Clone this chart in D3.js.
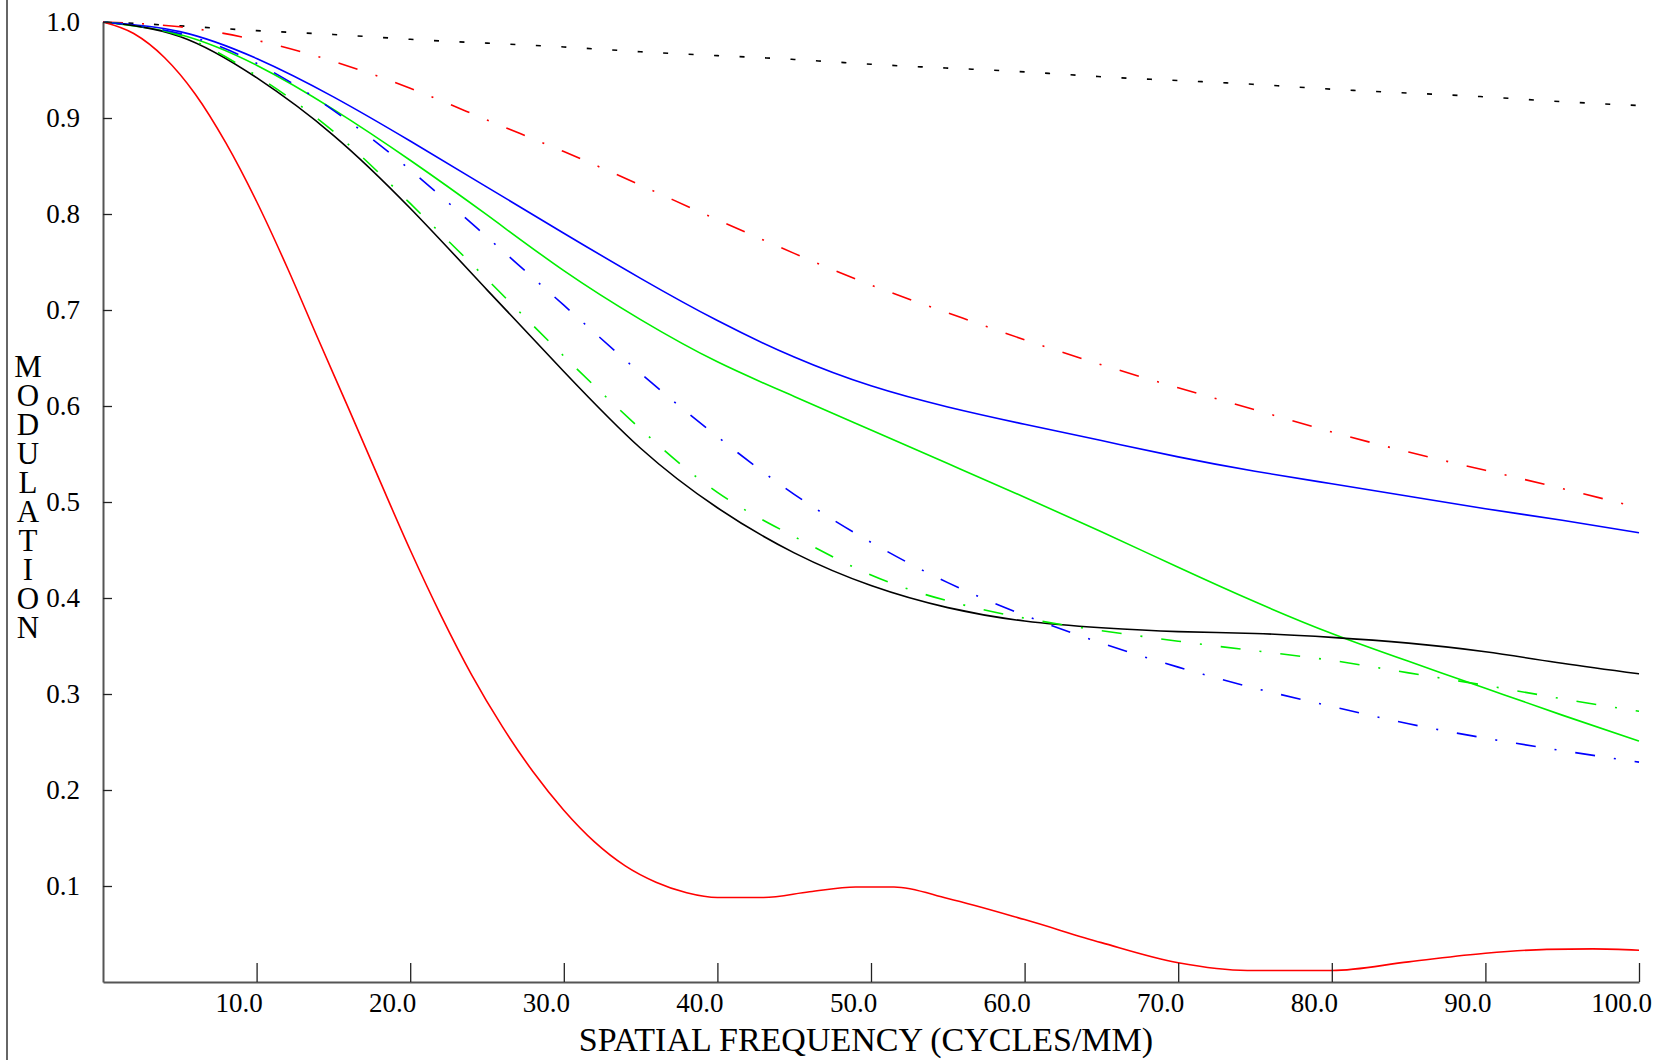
<!DOCTYPE html>
<html>
<head>
<meta charset="utf-8">
<script src="https://cdn.jsdelivr.net/npm/d3@7"></script>
<style>
  body { margin: 0; background: #fff; }
  svg { display: block; }
  text { font-family: "Liberation Serif", "Times New Roman", serif; fill: #000; }
</style>
</head>
<body>
<div id="chart"></div>
<script>
// spatial frequency samples (cycles/mm)
var freq = [0, 5, 10, 15, 20, 25, 30, 35, 40, 45, 50, 55, 60, 65, 70, 75, 80, 85, 90, 95, 100];

var diffraction = [1.000, 0.996, 0.991, 0.987, 0.982, 0.978, 0.974, 0.969, 0.965, 0.961, 0.956,
                   0.952, 0.948, 0.943, 0.939, 0.935, 0.930, 0.926, 0.922, 0.917, 0.913];
var redDashDot = [1.000, 0.995, 0.981, 0.959, 0.931, 0.898, 0.865, 0.830, 0.794, 0.759, 0.726,
                  0.697, 0.669, 0.643, 0.619, 0.596, 0.573, 0.552, 0.533, 0.514, 0.494];
var blueSolid = [1.000, 0.990, 0.962, 0.922, 0.876, 0.828, 0.780, 0.733, 0.689, 0.651, 0.621,
                 0.599, 0.581, 0.564, 0.547, 0.532, 0.519, 0.506, 0.493, 0.481, 0.468];
var greenSolid = [1.000, 0.987, 0.955, 0.909, 0.856, 0.799, 0.741, 0.690, 0.646, 0.610, 0.575,
                  0.540, 0.505, 0.469, 0.432, 0.396, 0.363, 0.334, 0.306, 0.278, 0.251];
var blackSolid = [1.000, 0.985, 0.942, 0.882, 0.806, 0.721, 0.636, 0.556, 0.494, 0.447, 0.413,
                  0.390, 0.376, 0.369, 0.365, 0.363, 0.359, 0.353, 0.344, 0.332, 0.321];
var greenDashDot = [1.000, 0.986, 0.944, 0.886, 0.811, 0.732, 0.652, 0.576, 0.510, 0.464, 0.424,
                    0.397, 0.379, 0.366, 0.355, 0.345, 0.335, 0.322, 0.309, 0.295, 0.282];
var blueDashDot = [1.000, 0.988, 0.957, 0.908, 0.846, 0.776, 0.705, 0.634, 0.568, 0.508, 0.458,
                   0.416, 0.382, 0.353, 0.328, 0.306, 0.287, 0.269, 0.254, 0.241, 0.229];

// red solid is sampled finer, it drops fast and wiggles near zero
var redFreq = [0, 2, 4, 6, 8, 10, 12, 14, 16, 18, 20, 22, 24, 26, 28, 30, 32, 34, 36, 38, 40,
               43, 46, 49, 51.5, 55, 60, 65, 70, 74.5, 80, 85, 90, 94, 97, 100];
var redSolid = [1.000, 0.988, 0.963, 0.925, 0.874, 0.813, 0.744, 0.670, 0.597, 0.523, 0.450,
                0.382, 0.320, 0.266, 0.219, 0.179, 0.146, 0.121, 0.104, 0.093, 0.088,
                0.088, 0.094, 0.099, 0.099, 0.087, 0.065, 0.041, 0.020, 0.012, 0.012,
                0.021, 0.030, 0.034, 0.0345, 0.033];

var xTicks = [10, 20, 30, 40, 50, 60, 70, 80, 90, 100];
var yTicks = [0.1, 0.2, 0.3, 0.4, 0.5, 0.6, 0.7, 0.8, 0.9, 1.0];
var yTitle = "MODULATION";
var xTitle = "SPATIAL FREQUENCY (CYCLES/MM)";

var width = 1663, height = 1060;
var plotLeft = 103, plotRight = 1639, plotTop = 22, plotBottom = 982;

var svg = d3.select("#chart").append("svg")
    .attr("width", width)
    .attr("height", height);

svg.append("rect").attr("width", width).attr("height", height).attr("fill", "#fff");

// frame edge on the far left
svg.append("line")
    .attr("x1", 7).attr("x2", 7)
    .attr("y1", 0).attr("y2", height)
    .attr("stroke", "#666")
    .attr("stroke-width", 2);

var x = d3.scaleLinear().domain([0, 100]).range([plotLeft, plotRight]);
var y = d3.scaleLinear().domain([0, 1]).range([plotBottom, plotTop]);

var smooth = d3.line()
    .x(function(d) { return x(d[0]); })
    .y(function(d) { return y(d[1]); })
    .curve(d3.curveNatural);

// monotone keeps the flat bits of the red curve flat
var monotone = d3.line()
    .x(function(d) { return x(d[0]); })
    .y(function(d) { return y(d[1]); })
    .curve(d3.curveMonotoneX);

var dashDot = "20 19 2 19";
var series = [
    {xs: freq, ys: diffraction, color: "#000", dash: "5 20.5", line: smooth},
    {xs: freq, ys: redDashDot, color: "#ff0000", dash: dashDot, line: smooth},
    {xs: freq, ys: blueSolid, color: "#0000ff", dash: null, line: smooth},
    {xs: freq, ys: greenSolid, color: "#00ee00", dash: null, line: smooth},
    {xs: freq, ys: blackSolid, color: "#000", dash: null, line: smooth},
    {xs: freq, ys: greenDashDot, color: "#00ee00", dash: dashDot, line: smooth},
    {xs: freq, ys: blueDashDot, color: "#0000ff", dash: dashDot, line: smooth},
    {xs: redFreq, ys: redSolid, color: "#ff0000", dash: null, line: monotone}
];

svg.append("g").selectAll("path")
    .data(series)
    .enter()
    .append("path")
    .attr("fill", "none")
    .attr("stroke", function(d) { return d.color; })
    .attr("stroke-width", 1.6)
    .attr("stroke-dasharray", function(d) { return d.dash; })
    .attr("d", function(d) { return d.line(d3.zip(d.xs, d.ys)); });

// y axis, ticks pointing into the plot
var yAxis = svg.append("g")
    .attr("transform", "translate(" + plotLeft + ",0)")
    .call(d3.axisLeft(y).tickValues(yTicks).tickFormat(d3.format(".1f"))
          .tickSizeInner(-9).tickSizeOuter(0).tickPadding(23));

// x axis, ticks pointing up
var xAxis = svg.append("g")
    .attr("transform", "translate(0," + plotBottom + ")")
    .call(d3.axisBottom(x).tickValues(xTicks).tickFormat(d3.format(".1f"))
          .tickSizeInner(-19).tickSizeOuter(0).tickPadding(11));

[yAxis, xAxis].forEach(function(ax) {
    ax.select(".domain").attr("stroke", "#555").attr("stroke-width", 2);
    ax.selectAll(".tick line").attr("stroke", "#222").attr("stroke-width", 1.3);
    ax.selectAll(".tick text")
        .attr("font-family", "Liberation Serif, Times New Roman, serif")
        .attr("font-size", 27)
        .attr("fill", "#000");
});
xAxis.selectAll(".tick text").attr("dx", -18);

// x axis title
svg.append("text")
    .attr("x", 866)
    .attr("y", 1051)
    .attr("text-anchor", "middle")
    .attr("font-size", 34)
    .text(xTitle);

// y axis title, one letter per row
svg.append("g").selectAll("text")
    .data(yTitle.split(""))
    .enter()
    .append("text")
    .attr("x", 28)
    .attr("y", function(d, i) { return 377 + 29 * i; })
    .attr("text-anchor", "middle")
    .attr("font-size", 31)
    .text(function(d) { return d; });
</script>
</body>
</html>
